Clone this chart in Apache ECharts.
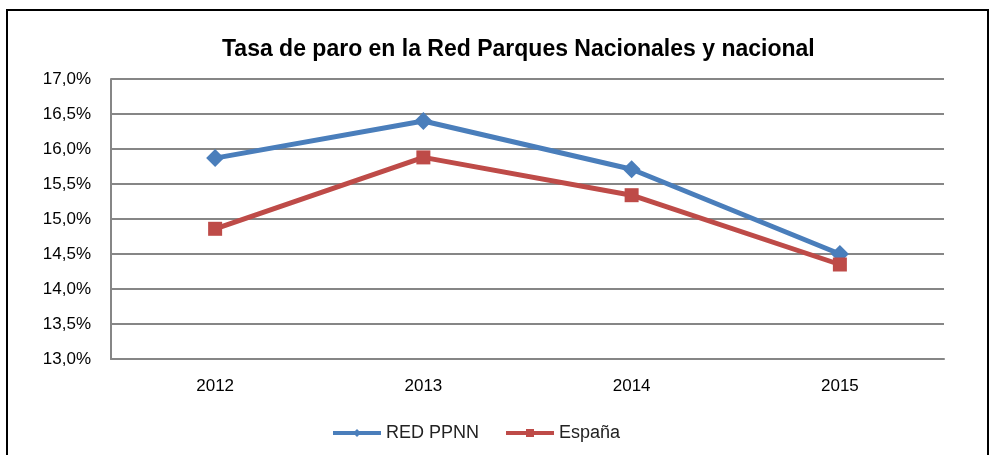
<!DOCTYPE html>
<html lang="es">
<head>
	<meta charset="UTF-8">
	<title>Tasa de paro</title>
	<script src="https://cdn.jsdelivr.net/npm/echarts@6/dist/echarts.min.js"></script>
	<style>
		html, body { margin: 0; padding: 0; background: #fff; }
	</style>
</head>
<body>
	<div id="chart" style="width: 992px; height: 455px;"></div>
	<script type="text/javascript">
		const years = ['2012', '2013', '2014', '2015'];
		const redPPNN = [15.87, 16.40, 15.71, 14.50];
		const espana = [14.86, 15.88, 15.34, 14.35];

		const chart = echarts.init(document.getElementById('chart'));
		const font = 'Liberation Sans, Arial, sans-serif';

		chart.setOption({
			animation: false,
			title: {
				text: 'Tasa de paro en la Red Parques Nacionales y nacional',
				left: 217,
				top: 33,
				textStyle: { fontFamily: font, fontWeight: 'bold', fontSize: 23, color: '#000' }
			},
			graphic: [{
				type: 'rect',
				shape: { x: 7, y: 10, width: 981, height: 470 },
				style: { fill: 'none', stroke: '#000', lineWidth: 2 },
				silent: true
			}],
			legend: {
				bottom: 8,
				left: 326,
				itemWidth: 48,
				itemHeight: 10,
				itemGap: 25,
				lineStyle: { width: 4 },
				textStyle: { fontFamily: font, fontSize: 18, color: '#222' },
				data: ['RED PPNN', 'España']
			},
			grid: { left: 111, right: 48, top: 79, bottom: 96 },
			xAxis: {
				type: 'category',
				data: years,
				boundaryGap: true,
				axisLine: { lineStyle: { color: '#868686', width: 2 } },
				axisTick: { show: false },
				axisLabel: { fontFamily: font, fontSize: 17, color: '#000', margin: 19 }
			},
			yAxis: {
				type: 'value',
				min: 13,
				max: 17,
				interval: 0.5,
				axisLine: { show: true, lineStyle: { color: '#868686', width: 2 } },
				axisTick: { show: false },
				splitLine: { lineStyle: { color: '#868686', width: 2 } },
				axisLabel: {
					fontFamily: font, fontSize: 17, color: '#000', margin: 20,
					formatter: v => v.toFixed(1).replace('.', ',') + '%'
				}
			},
			series: [{
				name: 'RED PPNN',
				type: 'line',
				data: redPPNN,
				symbol: 'diamond',
				symbolSize: 18,
				lineStyle: { width: 5, color: '#4a7ebb' },
				itemStyle: { color: '#4a7ebb' }
			}, {
				name: 'España',
				type: 'line',
				data: espana,
				symbol: 'rect',
				symbolSize: 14,
				lineStyle: { width: 5, color: '#be4b48' },
				itemStyle: { color: '#be4b48' }
			}]
		});
	</script>
</body>
</html>
